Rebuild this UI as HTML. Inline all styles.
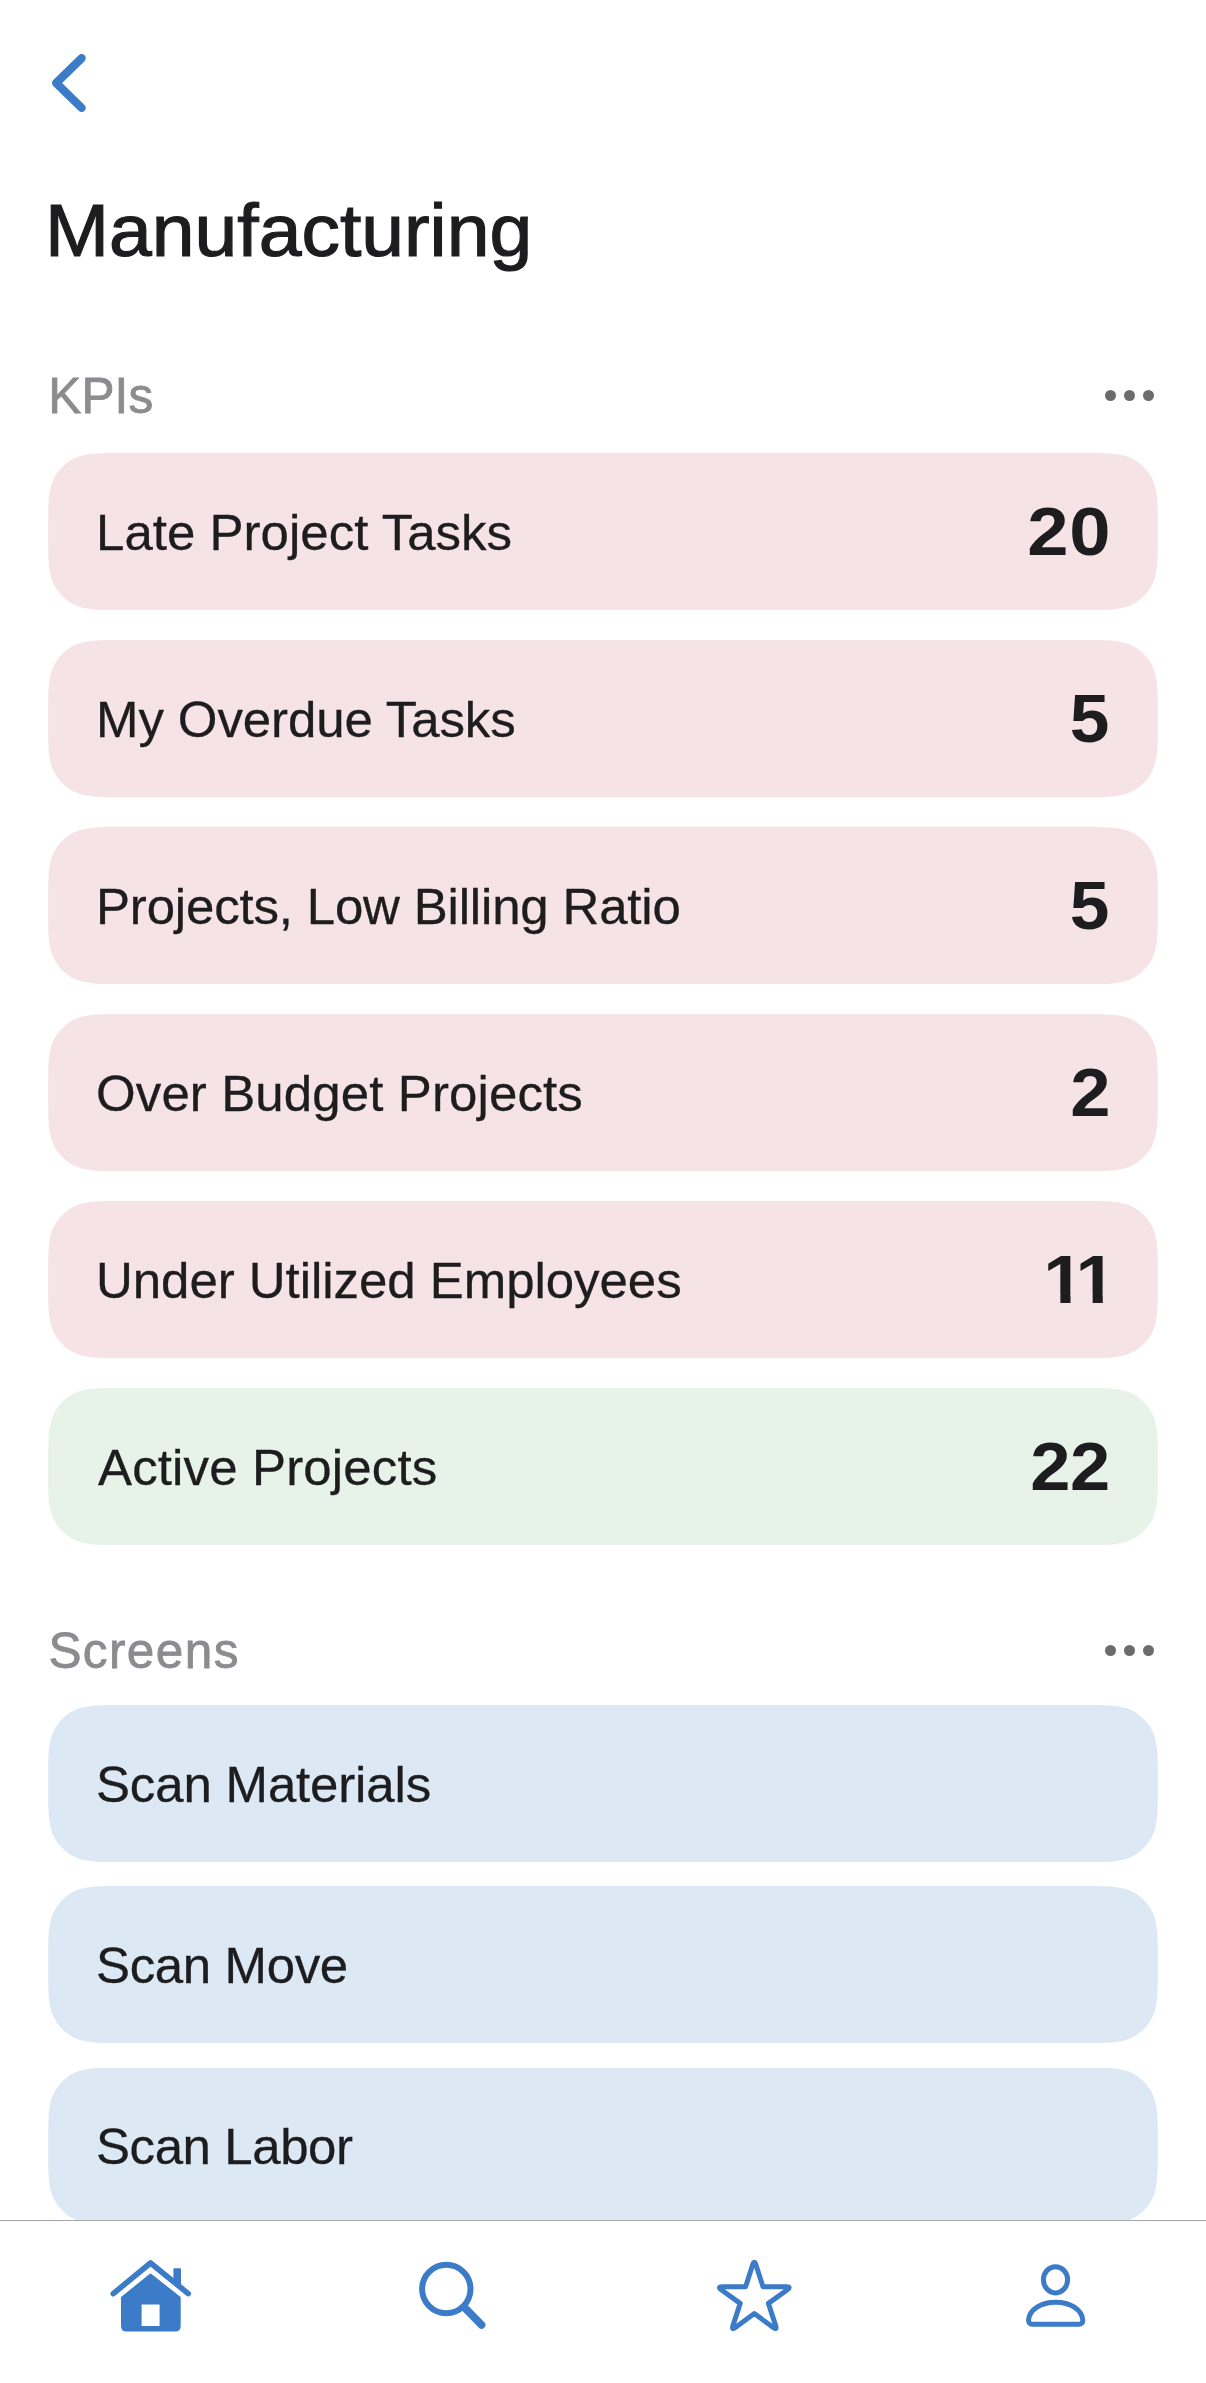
<!DOCTYPE html>
<html lang="en">
<head>
<meta charset="utf-8">
<title>Manufacturing</title>
<style>
*{box-sizing:border-box;margin:0;padding:0}
html,body{width:1206px;height:2383px;background:#fff;overflow:hidden}
body{position:relative;font-family:"Liberation Sans",sans-serif;color:#1d1d1f}
.abs{position:absolute}
.back{left:40px;top:40px}
h1{transform:scaleX(1.039);transform-origin:0 50%;position:absolute;left:45.2px;top:186px;font-size:74px;font-weight:400;line-height:90px;white-space:nowrap;letter-spacing:0px;-webkit-text-stroke:1.2px #1d1d1f}
.sec{position:absolute;line-height:60px;color:#8b8b90;white-space:nowrap;-webkit-text-stroke:0.8px #8b8b90}
.dots{position:absolute;left:1105px;width:52px;height:12px}
.dots i{position:absolute;top:0;width:11px;height:11px;border-radius:50%;background:#6c6c6e}
.card{position:absolute;left:48.2px;width:1109.6px;height:157px;white-space:nowrap;clip-path:path('M73.38 0.00L1036.22 0.00C1057.35 0.00 1067.92 0.00 1079.29 3.60C1091.70 8.11 1101.49 17.90 1106.00 30.31C1109.60 41.68 1109.60 52.25 1109.60 73.38L1109.60 83.62C1109.60 104.75 1109.60 115.32 1106.00 126.69C1101.49 139.10 1091.70 148.89 1079.29 153.40C1067.92 157.00 1057.35 157.00 1036.22 157.00L73.38 157.00C52.25 157.00 41.68 157.00 30.31 153.40C17.90 148.89 8.11 139.10 3.60 126.69C0.00 115.32 0.00 104.75 0.00 83.62L0.00 73.38C0.00 52.25 0.00 41.68 3.60 30.31C8.11 17.90 17.90 8.11 30.31 3.60C41.68 0.00 52.25 0.00 73.38 0.00Z')}
.pink{background:#f6e3e5}
.green{background:#e7f2e9}
.bluebg{background:#dce9f5}
.card .t{transform:scaleX(1.02);transform-origin:0 50%;position:absolute;font-size:50px;line-height:60px;-webkit-text-stroke:0.3px #1d1d1f}
.card .n{transform-origin:100% 50%;position:absolute;top:38.5px;font-size:69px;line-height:80px;font-weight:700}
.tab{position:absolute;left:0;top:2220px;width:1206px;height:163px;background:#fff}
.tab .line{position:absolute;left:0;top:0;width:1206px;height:1.3px;background:#a6a6aa}
.tab svg{position:absolute;left:0;top:0}
</style>
</head>
<body>
<svg class="abs back" width="60" height="90" viewBox="40 40 60 90"><path d="M81.6 58.2 L56.15 83.05 L81.6 107.9" fill="none" stroke="#3b7bc7" stroke-width="8.3" stroke-linecap="round" stroke-linejoin="round"/></svg>
<h1>Manufacturing</h1>

<div class="sec" style="left:48.2px;top:366px;font-size:49.5px;letter-spacing:0.2px">KPIs</div>
<div class="dots" style="top:390px"><i style="left:0"></i><i style="left:19px"></i><i style="left:37.5px"></i></div>
<div class="card pink" style="top:453px"><span class="t" style="left:47.57px;top:49.56px;letter-spacing:0.017px">Late Project Tasks</span><span class="n" style="transform:scaleX(1.0750);letter-spacing:0.77px;right:46.87px">20</span></div>
<div class="card pink" style="top:640px"><span class="t" style="left:47.57px;top:49.56px;letter-spacing:-0.106px">My Overdue Tasks</span><span class="n" style="transform:scaleX(1.0336);letter-spacing:0.00px;right:48.10px">5</span></div>
<div class="card pink" style="top:827px"><span class="t" style="left:47.57px;top:49.56px;letter-spacing:-0.180px">Projects, Low Billing Ratio</span><span class="n" style="transform:scaleX(1.0336);letter-spacing:0.00px;right:48.10px">5</span></div>
<div class="card pink" style="top:1014px"><span class="t" style="left:47.69px;top:49.56px;letter-spacing:0.107px">Over Budget Projects</span><span class="n" style="transform:scaleX(1.0478);letter-spacing:0.00px;right:47.67px">2</span></div>
<div class="card pink" style="top:1201px"><span class="t" style="left:48.16px;top:49.56px;letter-spacing:-0.047px">Under Utilized Employees</span><span class="n" style="transform:scaleX(1.0600);letter-spacing:-7.95px;right:49.74px;font-kerning:none;clip-path:polygon(0 0,100% 0,100% 55.77px,56.06px 55.77px,56.06px 100%,46.50px 100%,46.50px 55.77px,25.63px 55.77px,25.63px 100%,16.07px 100%,16.07px 55.77px,0 55.77px)">11</span></div>
<div class="card green" style="top:1388px"><span class="t" style="left:49.52px;top:49.56px;letter-spacing:0.142px">Active Projects</span><span class="n" style="transform:scaleX(1.0480);letter-spacing:-0.44px;right:48.10px">22</span></div>

<div class="sec" style="left:48.4px;top:1621.2px;font-size:49.5px;letter-spacing:1.4px">Screens</div>
<div class="dots" style="top:1645px"><i style="left:0"></i><i style="left:19px"></i><i style="left:37.5px"></i></div>
<div class="card bluebg" style="top:1705px"><span class="t" style="left:48.21px;top:49.56px;letter-spacing:-0.163px">Scan Materials</span></div>
<div class="card bluebg" style="top:1886px"><span class="t" style="left:48.21px;top:49.56px;letter-spacing:-0.360px">Scan Move</span></div>
<div class="card bluebg" style="top:2067.5px"><span class="t" style="left:48.21px;top:49.10px;letter-spacing:-0.415px">Scan Labor</span></div>

<div class="tab"><svg width="1206" height="163" viewBox="0 2220 1206 163">
<g fill="#3b7bc7" stroke="#3b7bc7" stroke-width="2" stroke-linejoin="round">
<path d="M150.5 2274.5 L122 2297.6 L122 2326 Q122 2330.5 126.5 2330.5 L175.2 2330.5 Q179.7 2330.5 179.7 2326 L179.7 2297.6 Z M141.2 2303.6 L160 2303.6 Q160.6 2303.6 160.6 2304.2 L160.6 2326.4 Q160.6 2327 160 2327 L141.2 2327 Q140.6 2327 140.6 2326.4 L140.6 2304.2 Q140.6 2303.6 141.2 2303.6 Z" fill-rule="evenodd"/>
<path d="M174.4 2269.2 L180 2269.2 L180 2289 L174.4 2283 Z"/>
</g>
<path d="M113.3 2293.6 L150.5 2263 L188.2 2293.6" fill="none" stroke="#3b7bc7" stroke-width="5.6" stroke-linecap="round" stroke-linejoin="round"/>
<circle cx="446.3" cy="2289" r="24.2" fill="none" stroke="#3b7bc7" stroke-width="6"/>
<path d="M464.5 2307.5 L481.6 2325" fill="none" stroke="#3b7bc7" stroke-width="7.6" stroke-linecap="round"/>
<path d="M752.77 2264.56 Q754.30 2259.80 755.83 2264.56 L763.00 2286.83 L786.39 2286.76 Q791.39 2286.75 787.34 2289.68 L768.38 2303.37 L775.67 2325.60 Q777.22 2330.35 773.19 2327.40 L754.30 2313.60 L735.41 2327.40 Q731.38 2330.35 732.93 2325.60 L740.22 2303.37 L721.26 2289.68 Q717.21 2286.75 722.21 2286.76 L745.60 2286.83Z" fill="none" stroke="#3b7bc7" stroke-width="5" stroke-linejoin="round"/>
<ellipse cx="1055.5" cy="2279.8" rx="12.1" ry="13.1" fill="none" stroke="#3b7bc7" stroke-width="5"/>
<path d="M1028.5 2320 C1029.5 2309.5 1041 2302.2 1055.6 2302.2 C1070.2 2302.2 1081.8 2309.5 1082.8 2320 C1083 2322.6 1081.4 2324.3 1079 2324.3 L1032.3 2324.3 C1029.9 2324.3 1028.3 2322.6 1028.5 2320Z" fill="none" stroke="#3b7bc7" stroke-width="5" stroke-linejoin="round"/>
</svg><div class="line"></div></div>
</body>
</html>
